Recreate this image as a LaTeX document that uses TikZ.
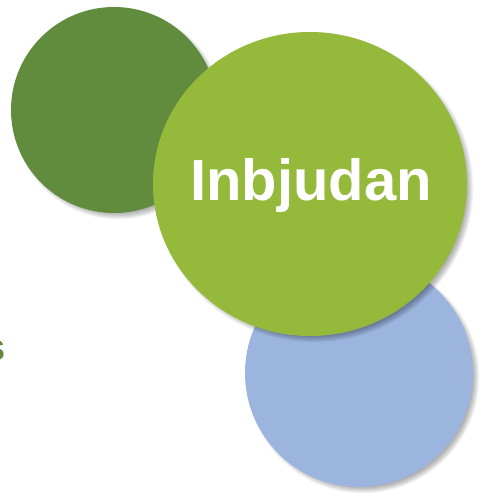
\documentclass[tikz,border=0pt]{standalone}
\usepackage{fontspec}
\setmainfont{Liberation Sans}
\definecolor{dkgreen}{HTML}{618B3D}
\definecolor{ltgreen}{HTML}{95B93A}
\definecolor{ltblue}{HTML}{9BB5DF}
\tikzset{
  shadowring/.style={fill=black, fill opacity=0.045, draw=none},
}
\newcommand{\softshadow}[3]{%
  \foreach \k in {0,1,...,7}{
    \fill[shadowring] (#1+4,#2+4) circle[radius=#3+\k*0.9];
  }%
}
\begin{document}
\begin{tikzpicture}[x=1pt,y=-1pt]
\useasboundingbox (0,0) rectangle (493,497);
\fill[white] (0,0) rectangle (493,497);
% blue circle
\softshadow{359}{373}{110}
\fill[ltblue] (359,373) circle[radius=114];
% dark green circle
\softshadow{114}{110}{99}
\fill[dkgreen] (114,110) circle[radius=103];
% light green ellipse
\foreach \k in {0,1,...,7}{
  \fill[shadowring] (314,188) ellipse[x radius=153+\k*0.9, y radius=148+\k*0.9];
}
\fill[ltgreen] (310,184) ellipse[x radius=157, y radius=152];
\node[anchor=base, text=white, font=\bfseries\fontsize{58}{58}\selectfont, inner sep=0pt] (title) at (311,200) {Inbjudan};
\node[anchor=base west, text=dkgreen, font=\bfseries\fontsize{38}{38}\selectfont, inner sep=0pt] (s) at (-16,360) {s};
\end{tikzpicture}
\end{document}
